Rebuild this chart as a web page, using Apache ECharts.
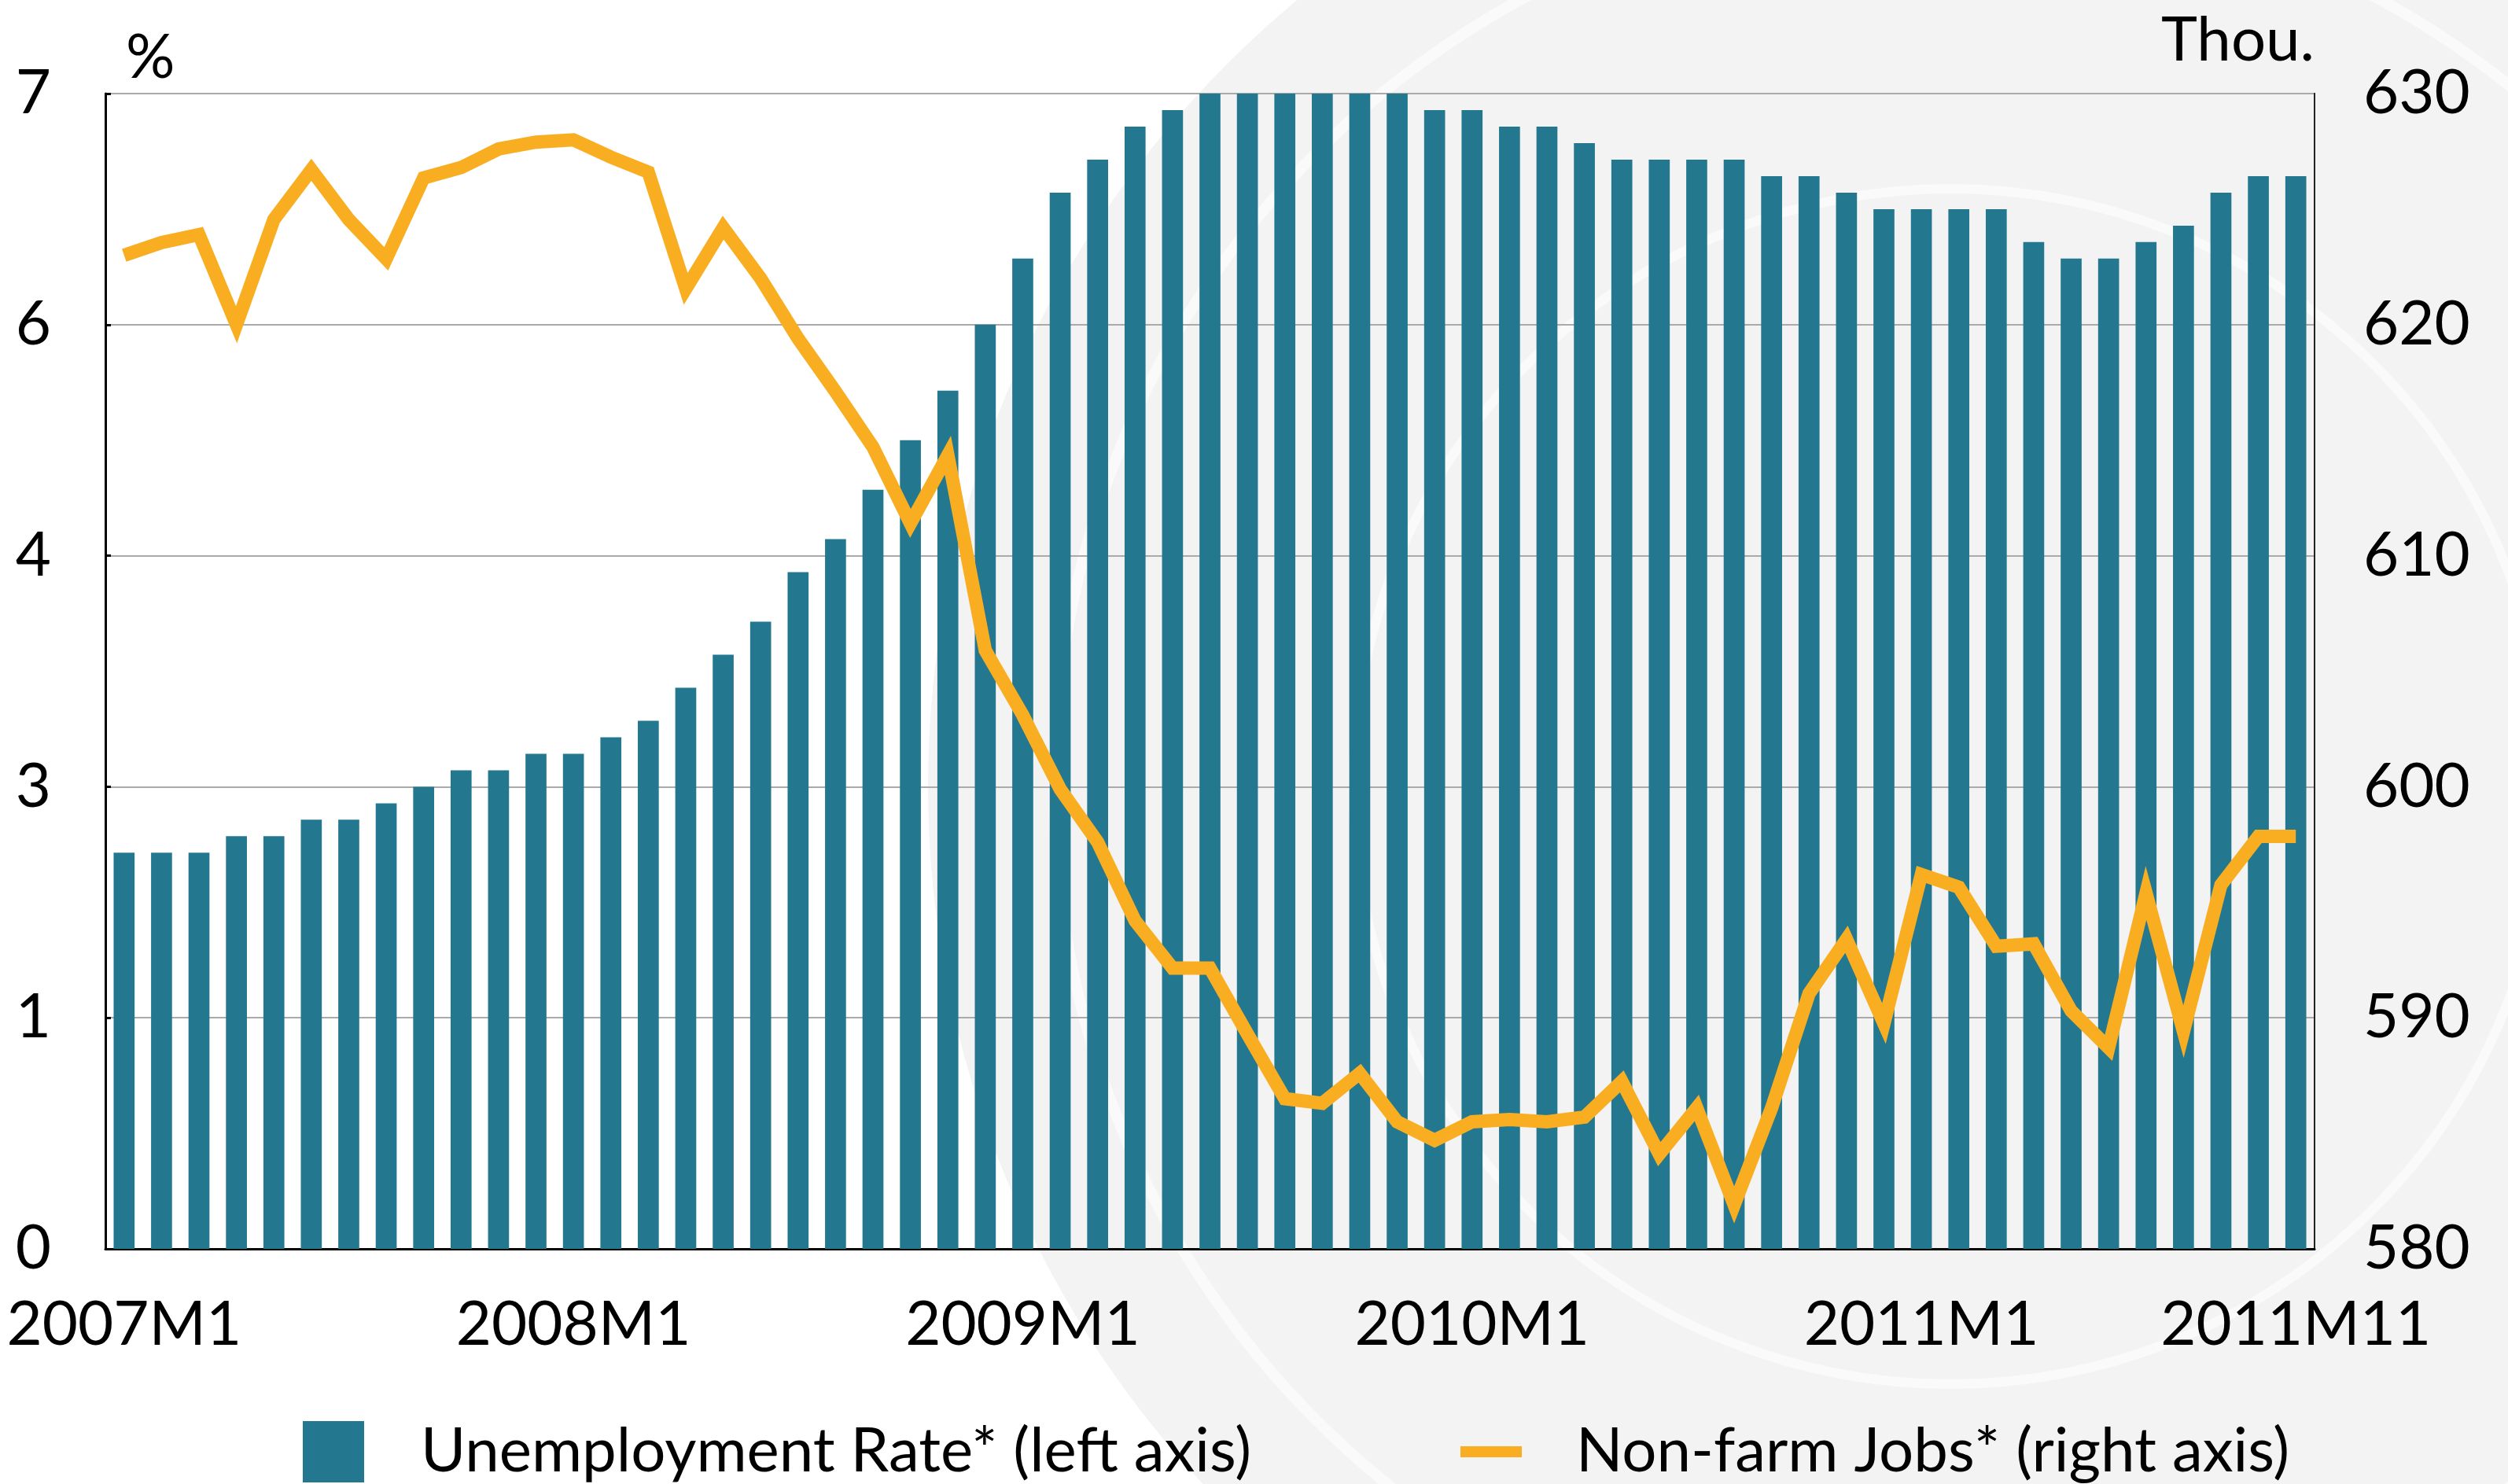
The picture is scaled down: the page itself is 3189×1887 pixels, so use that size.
<!DOCTYPE html>
<html>
<head>
<meta charset="utf-8">
<title>Unemployment Rate and Non-farm Jobs</title>
<script src="https://cdn.jsdelivr.net/npm/echarts@6/dist/echarts.min.js"></script>
<style>
  html, body { margin: 0; padding: 0; background: #fff; }
  #chart { width: 3189px; height: 1887px; }
</style>
</head>
<body>
<div id="chart"></div>
<script>
// months 2007M1 .. 2011M11
const months = []
for (let y = 2007; y <= 2011; y++) {
  for (let m = 1; m <= 12; m++) {
    if (y === 2011 && m > 11) break
    months.push(y + 'M' + m)
  }
}
const shownLabels = ['2007M1', '2008M1', '2009M1', '2010M1', '2011M1', '2011M11']

// unemployment rate, left axis (%)
const unemploymentRate = [
  2.4, 2.4, 2.4, 2.5, 2.5, 2.6, 2.6, 2.7, 2.8, 2.9, 2.9, 3.0,
  3.0, 3.1, 3.2, 3.4, 3.6, 3.8, 4.1, 4.3, 4.6, 4.9, 5.2, 5.6,
  6.0, 6.4, 6.6, 6.8, 6.9, 7.0, 7.0, 7.0, 7.0, 7.0, 7.0, 6.9,
  6.9, 6.8, 6.8, 6.7, 6.6, 6.6, 6.6, 6.6, 6.5, 6.5, 6.4, 6.3,
  6.3, 6.3, 6.3, 6.1, 6.0, 6.0, 6.1, 6.2, 6.4, 6.5, 6.5
]

// non-farm jobs, right axis (thousands)
const nonFarmJobs = [
  623.0, 623.55, 623.9, 620.0, 624.55, 626.7, 624.55, 622.85, 626.35, 626.8, 627.6, 627.9,
  628.0, 627.25, 626.6, 621.55, 624.2, 622.0, 619.4, 617.1, 614.7, 611.4, 614.35, 605.9,
  603.1, 599.9, 597.6, 594.2, 592.15, 592.15, 589.3, 586.5, 586.3, 587.6, 585.5, 584.7,
  585.5, 585.6, 585.5, 585.7, 587.25, 584.1, 586.1, 581.9, 586.1, 591.05, 593.4, 589.75,
  596.2, 595.65, 593.1, 593.2, 590.3, 588.7, 595.4, 589.4, 595.75, 597.85, 597.85
]

const BAR_COLOR = '#237890'
const LINE_COLOR = '#F9AE22'
const FONT = 'Lato'

const chart = echarts.init(document.getElementById('chart'), null, { renderer: 'canvas' })

const option = {
  backgroundColor: '#ffffff',
  animation: false,
  textStyle: { fontFamily: FONT, color: '#000' },
  // faint seal watermark behind the plot
  graphic: [
    {
      type: 'circle', silent: true, z: -10,
      shape: { cx: 2480, cy: 1000, r: 1300 },
      style: { fill: '#f3f3f3' }
    },
    {
      type: 'circle', silent: true, z: -9,
      shape: { cx: 2480, cy: 1000, r: 1140 },
      style: { fill: 'none', stroke: '#fafafa', lineWidth: 14 }
    },
    {
      type: 'circle', silent: true, z: -9,
      shape: { cx: 2480, cy: 1000, r: 760 },
      style: { fill: 'none', stroke: '#fafafa', lineWidth: 12 }
    }
  ],
  grid: {
    left: 134, right: 246, top: 119, bottom: 299,
    show: true, borderColor: '#222', borderWidth: 2,
    containLabel: false
  },
  legend: [
    {
      left: 380, top: 1802,
      itemWidth: 78, itemHeight: 78,
      icon: 'rect',
      itemStyle: { borderWidth: 0 },
      textStyle: { fontFamily: FONT, fontSize: 78, color: '#000', lineHeight: 78, padding: [0, 0, 0, 67] },
      data: ['Unemployment Rate* (left axis)']
    },
    {
      left: 1852, top: 1802,
      itemWidth: 78, itemHeight: 14,
      icon: 'rect',
      itemStyle: { borderWidth: 0 },
      lineStyle: { width: 0 },
      textStyle: { fontFamily: FONT, fontSize: 78, color: '#000', lineHeight: 78, padding: [0, 0, 0, 64] },
      data: ['Non-farm Jobs* (right axis)']
    }
  ],
  xAxis: {
    type: 'category',
    data: months,
    boundaryGap: true,
    axisLine: { show: true, lineStyle: { color: '#000', width: 3 } },
    axisTick: { show: false },
    axisLabel: {
      interval: 0,
      hideOverlap: false,
      margin: 58,
      fontSize: 78,
      fontFamily: FONT,
      color: '#000',
      formatter: v => (shownLabels.includes(v) ? v : '')
    },
    splitLine: { show: false }
  },
  yAxis: [
    {
      type: 'value',
      min: 0, max: 7, interval: 1.4,
      position: 'left',
      name: '%',
      nameLocation: 'end',
      nameGap: 6,
      nameTextStyle: { fontFamily: FONT, fontSize: 78, color: '#000', align: 'left', verticalAlign: 'bottom', padding: [0, 0, 0, 26] },
      axisLine: { show: true, lineStyle: { color: '#000', width: 3 } },
      axisTick: { show: true, inside: true, length: 7, lineStyle: { color: '#000', width: 3 } },
      axisLabel: {
        margin: 69,
        fontSize: 78,
        fontFamily: FONT,
        color: '#000',
        formatter: v => String(Math.round(v))
      },
      splitLine: { show: true, lineStyle: { color: '#aaaaaa', width: 2 } }
    },
    {
      type: 'value',
      min: 580, max: 630, interval: 10,
      position: 'right',
      name: 'Thou.',
      nameLocation: 'end',
      nameGap: 28,
      nameTextStyle: { fontFamily: FONT, fontSize: 78, color: '#000', align: 'right', verticalAlign: 'bottom', padding: [0, 0, 0, 0] },
      axisLine: { show: true, lineStyle: { color: '#222', width: 2 } },
      axisTick: { show: false },
      axisLabel: {
        margin: 62,
        fontSize: 78,
        fontFamily: FONT,
        color: '#000'
      },
      splitLine: { show: false }
    }
  ],
  series: [
    {
      name: 'Unemployment Rate* (left axis)',
      type: 'bar',
      yAxisIndex: 0,
      data: unemploymentRate,
      barCategoryGap: '44%',
      itemStyle: { color: BAR_COLOR },
      z: 2
    },
    {
      name: 'Non-farm Jobs* (right axis)',
      type: 'line',
      yAxisIndex: 1,
      data: nonFarmJobs,
      symbol: 'none',
      smooth: false,
      itemStyle: { color: LINE_COLOR },
      lineStyle: { color: LINE_COLOR, width: 17, join: 'miter', miterLimit: 10 },
      z: 3
    }
  ]
}

chart.setOption(option)
</script>
</body>
</html>
